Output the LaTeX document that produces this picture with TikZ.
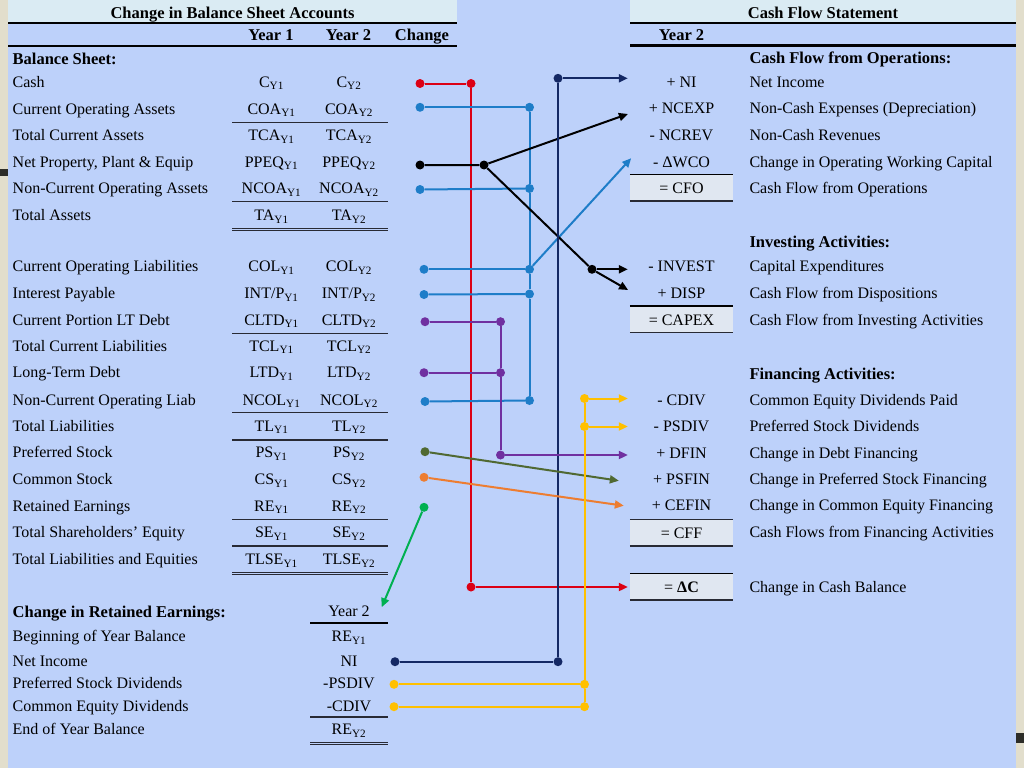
\documentclass[tikz,border=0pt]{standalone}
\usepackage{fontspec}
\setmainfont{Liberation Serif}
\usetikzlibrary{arrows.meta}

\definecolor{sheetbg}{RGB}{189,209,250}
\definecolor{headfill}{RGB}{218,235,243}
\definecolor{boxfill}{RGB}{224,231,241}
\definecolor{edgebeige}{RGB}{226,222,204}
\definecolor{edgemark}{RGB}{45,45,40}
\definecolor{rulegray}{RGB}{40,42,52}
\definecolor{cashred}{RGB}{220,0,20}
\definecolor{opblue}{RGB}{30,125,200}
\definecolor{ninavy}{RGB}{20,40,100}
\definecolor{debtpurple}{RGB}{112,48,160}
\definecolor{psolive}{RGB}{80,105,50}
\definecolor{csorange}{RGB}{237,125,49}
\definecolor{regreen}{RGB}{0,176,80}
\definecolor{divyellow}{RGB}{255,192,0}

\newcommand{\yone}[1]{#1\textsubscript{Y1}}
\newcommand{\ytwo}[1]{#1\textsubscript{Y2}}

\begin{document}
\begin{tikzpicture}[
    x=1pt, y=-1pt,
    lbl/.style={
        anchor=west,
        inner sep=0pt,
        text height=12pt,
        text depth=1pt,
        font=\fontsize{16}{19}\selectfont,
    },
    hdr/.style={
        lbl,
        font=\fontsize{16.5}{19}\selectfont\bfseries,
    },
    val/.style={
        inner sep=0pt,
        text height=12pt,
        text depth=1pt,
        font=\fontsize{16}{19}\selectfont,
    },
    colhdr/.style={
        val,
        font=\fontsize{16.5}{19}\selectfont\bfseries,
    },
    sym/.style={
        val,
        minimum width=103pt,
        minimum height=26pt,
    },
    total/.style={
        sym,
        fill=boxfill,
    },
    joint/.style={
        circle,
        fill=#1,
        inner sep=0pt,
        minimum size=9pt,
    },
    wire/.style={
        line width=2pt,
        draw=#1,
    },
    feed/.style={
        wire=#1,
        -{Triangle[length=9pt, width=8pt]},
        shorten >=2pt,
    },
    tabrule/.style={
        line width=1.3pt,
        draw=rulegray,
    },
    thickrule/.style={
        line width=2.2pt,
        draw=black,
    },
    dblrule/.style={
        draw=rulegray,
        double=sheetbg,
        double distance=1pt,
        line width=1pt,
    }
]
    \useasboundingbox (0,0) rectangle (1024,768);

    % Page
    \fill[sheetbg] (8,0) rectangle (1016,768);
    \fill[edgebeige] (0,0) rectangle (8,768);
    \fill[edgebeige] (1016,0) rectangle (1024,768);
    \fill[edgemark] (0,169) rectangle (8,176);
    \fill[edgemark] (1016,733) rectangle (1024,743);

    % Headers
    \fill[headfill] (8,0) rectangle (457,22);
    \fill[headfill] (630,0) rectangle (1016,22);
    \node[colhdr] (bsTitle) at (232.5,12.8) {Change in Balance Sheet Accounts};
    \node[colhdr] (cfTitle) at (823,12.8) {Cash Flow Statement};
    \draw[thickrule] (8,23.3) -- (457,23.3);
    \draw[thickrule] (630,23.3) -- (1016,23.3);
    \node[colhdr] (hdYear1) at (271,34.7) {Year 1};
    \node[colhdr] (hdYear2) at (348.5,34.7) {Year 2};
    \node[colhdr] (hdChange) at (422,34.7) {Change};
    \node[colhdr] (cfYear2) at (681.5,34.7) {Year 2};
    \draw[thickrule] (8,46) -- (457,46);
    \draw[thickrule] (630,45.5) -- (1016,45.5);

    % Balance sheet
    \node[hdr] (bsHead) at (12.5,58.7) {Balance Sheet:};
    \node[lbl] (cash) at (12.5,81.5) {Cash};
    \node[val] (cashY1) at (271.5,81.5) {\yone{C}};
    \node[val] (cashY2) at (349,81.5) {\ytwo{C}};
    \node[lbl] (coa) at (12.5,108.5) {Current Operating Assets};
    \node[val] (coaY1) at (271.5,108.5) {\yone{COA}};
    \node[val] (coaY2) at (349,108.5) {\ytwo{COA}};
    \node[lbl] (tca) at (12.5,135.3) {Total Current Assets};
    \node[val] (tcaY1) at (271.5,135.3) {\yone{TCA}};
    \node[val] (tcaY2) at (349,135.3) {\ytwo{TCA}};
    \node[lbl] (ppeq) at (12.5,161.7) {Net Property, Plant \& Equip};
    \node[val] (ppeqY1) at (271.5,161.7) {\yone{PPEQ}};
    \node[val] (ppeqY2) at (349,161.7) {\ytwo{PPEQ}};
    \node[lbl] (ncoa) at (12.5,188.3) {Non-Current Operating Assets};
    \node[val] (ncoaY1) at (271.5,188.3) {\yone{NCOA}};
    \node[val] (ncoaY2) at (349,188.3) {\ytwo{NCOA}};
    \node[lbl] (ta) at (12.5,215) {Total Assets};
    \node[val] (taY1) at (271.5,215) {\yone{TA}};
    \node[val] (taY2) at (349,215) {\ytwo{TA}};
    \node[lbl] (col) at (12.5,266.3) {Current Operating Liabilities};
    \node[val] (colY1) at (271.5,266.3) {\yone{COL}};
    \node[val] (colY2) at (349,266.3) {\ytwo{COL}};
    \node[lbl] (intp) at (12.5,293) {Interest Payable};
    \node[val] (intpY1) at (271.5,293) {\yone{INT/P}};
    \node[val] (intpY2) at (349,293) {\ytwo{INT/P}};
    \node[lbl] (cltd) at (12.5,319.7) {Current Portion LT Debt};
    \node[val] (cltdY1) at (271.5,319.7) {\yone{CLTD}};
    \node[val] (cltdY2) at (349,319.7) {\ytwo{CLTD}};
    \node[lbl] (tcl) at (12.5,345.7) {Total Current Liabilities};
    \node[val] (tclY1) at (271.5,345.7) {\yone{TCL}};
    \node[val] (tclY2) at (349,345.7) {\ytwo{TCL}};
    \node[lbl] (ltd) at (12.5,372.3) {Long-Term Debt};
    \node[val] (ltdY1) at (271.5,372.3) {\yone{LTD}};
    \node[val] (ltdY2) at (349,372.3) {\ytwo{LTD}};
    \node[lbl] (ncol) at (12.5,399.7) {Non-Current Operating Liab};
    \node[val] (ncolY1) at (271.5,399.7) {\yone{NCOL}};
    \node[val] (ncolY2) at (349,399.7) {\ytwo{NCOL}};
    \node[lbl] (tl) at (12.5,425.7) {Total Liabilities};
    \node[val] (tlY1) at (271.5,425.7) {\yone{TL}};
    \node[val] (tlY2) at (349,425.7) {\ytwo{TL}};
    \node[lbl] (ps) at (12.5,452.3) {Preferred Stock};
    \node[val] (psY1) at (271.5,452.3) {\yone{PS}};
    \node[val] (psY2) at (349,452.3) {\ytwo{PS}};
    \node[lbl] (cs) at (12.5,479) {Common Stock};
    \node[val] (csY1) at (271.5,479) {\yone{CS}};
    \node[val] (csY2) at (349,479) {\ytwo{CS}};
    \node[lbl] (re) at (12.5,505.7) {Retained Earnings};
    \node[val] (reY1) at (271.5,505.7) {\yone{RE}};
    \node[val] (reY2) at (349,505.7) {\ytwo{RE}};
    \node[lbl] (se) at (12.5,532.3) {Total Shareholders' Equity};
    \node[val] (seY1) at (271.5,532.3) {\yone{SE}};
    \node[val] (seY2) at (349,532.3) {\ytwo{SE}};
    \node[lbl] (tlse) at (12.5,559) {Total Liabilities and Equities};
    \node[val] (tlseY1) at (271.5,559) {\yone{TLSE}};
    \node[val] (tlseY2) at (349,559) {\ytwo{TLSE}};

    % Balance sheet rules
    \draw[tabrule] (232,122.3) -- (388,122.3);
    \draw[tabrule] (232,201.7) -- (388,201.7);
    \draw[dblrule] (232,229.3) -- (388,229.3);
    \draw[tabrule] (232,333.3) -- (388,333.3);
    \draw[tabrule] (232,412.7) -- (388,412.7);
    \draw[tabrule] (232,440) -- (388,440);
    \draw[tabrule] (232,519.3) -- (388,519.3);
    \draw[tabrule] (232,546) -- (388,546);
    \draw[dblrule] (232,573.7) -- (388,573.7);

    % Change in retained earnings
    \node[hdr] (rcHead) at (12.5,612) {Change in Retained Earnings:};
    \node[val] (rcYear) at (349,611) {Year 2};
    \node[lbl] (rcBegin) at (12.5,636) {Beginning of Year Balance};
    \node[val] (rcBeginV) at (349,636) {\yone{RE}};
    \node[lbl] (rcNI) at (12.5,660.7) {Net Income};
    \node[val] (rcNIV) at (349,660.7) {NI};
    \node[lbl] (rcPSD) at (12.5,683) {Preferred Stock Dividends};
    \node[val] (rcPSDV) at (349,683) {-PSDIV};
    \node[lbl] (rcCD) at (12.5,705.7) {Common Equity Dividends};
    \node[val] (rcCDV) at (349,705.7) {-CDIV};
    \node[lbl] (rcEnd) at (12.5,729) {End of Year Balance};
    \node[val] (rcEndV) at (349,729) {\ytwo{RE}};
    \draw[thickrule] (310,623) -- (388,623);
    \draw[tabrule] (310,717) -- (388,717);
    \draw[dblrule] (310,743) -- (388,743);

    % Cash flow statement
    \node[hdr] (cfoHead) at (749.3,58) {Cash Flow from Operations:};
    \node[sym] (cfNI) at (681.5,81.5) {+ NI};
    \node[lbl] (dsNI) at (749.3,81.5) {Net Income};
    \node[sym] (cfNCEXP) at (681.5,108.3) {+ NCEXP};
    \node[lbl] (dsNCEXP) at (749.3,108.3) {Non-Cash Expenses (Depreciation)};
    \node[sym] (cfNCREV) at (681.5,135) {- NCREV};
    \node[lbl] (dsNCREV) at (749.3,135) {Non-Cash Revenues};
    \node[sym] (cfWCO) at (681.5,161.7) {- ΔWCO};
    \node[lbl] (dsWCO) at (749.3,161.7) {Change in Operating Working Capital};
    \node[total] (cfCFO) at (681.5,187.7) {= CFO};
    \node[lbl] (dsCFO) at (749.3,187.7) {Cash Flow from Operations};

    \node[hdr] (invHead) at (749.3,242.3) {Investing Activities:};
    \node[sym] (cfINVEST) at (681.5,266.3) {- INVEST};
    \node[lbl] (dsINVEST) at (749.3,266.3) {Capital Expenditures};
    \node[sym] (cfDISP) at (681.5,293) {+ DISP};
    \node[lbl] (dsDISP) at (749.3,293) {Cash Flow from Dispositions};
    \node[total] (cfCAPEX) at (681.5,319.5) {= CAPEX};
    \node[lbl] (dsCAPEX) at (749.3,319.5) {Cash Flow from Investing Activities};

    \node[hdr] (finHead) at (749.3,374) {Financing Activities:};
    \node[sym] (cfCDIV) at (681.5,399.7) {- CDIV};
    \node[lbl] (dsCDIV) at (749.3,399.7) {Common Equity Dividends Paid};
    \node[sym] (cfPSDIV) at (681.5,425.7) {- PSDIV};
    \node[lbl] (dsPSDIV) at (749.3,425.7) {Preferred Stock Dividends};
    \node[sym] (cfDFIN) at (681.5,452.7) {+ DFIN};
    \node[lbl] (dsDFIN) at (749.3,452.7) {Change in Debt Financing};
    \node[sym] (cfPSFIN) at (681.5,479) {+ PSFIN};
    \node[lbl] (dsPSFIN) at (749.3,479) {Change in Preferred Stock Financing};
    \node[sym] (cfCEFIN) at (681.5,505) {+ CEFIN};
    \node[lbl] (dsCEFIN) at (749.3,505) {Change in Common Equity Financing};
    \node[total] (cfCFF) at (681.5,532.8) {= CFF};
    \node[lbl] (dsCFF) at (749.3,532.3) {Cash Flows from Financing Activities};
    \node[total] (cfDC) at (681.5,586.7) {= \textbf{ΔC}};
    \node[lbl] (dsDC) at (749.3,586.7) {Change in Cash Balance};

    % Total box rules
    \draw[tabrule, line width=1pt, draw=black] (cfCFO.north west) -- (cfCFO.north east);
    \draw[tabrule] (cfCFO.south west) -- (cfCFO.south east);
    \draw[thickrule] (cfCAPEX.north west) -- (cfCAPEX.north east);
    \draw[tabrule] (cfCAPEX.south west) -- (cfCAPEX.south east);
    \draw[tabrule] (cfCFF.north west) -- (cfCFF.north east);
    \draw[tabrule] (cfCFF.south west) -- (cfCFF.south east);
    \draw[tabrule, line width=1pt, draw=black] (cfDC.north west) -- (cfDC.north east);
    \draw[tabrule, line width=2.6pt] (cfDC.south west) -- (cfDC.south east);

    % Cash
    \node[joint=cashred] (cashA) at (420,83.5) {};
    \node[joint=cashred] (cashB) at (471,83.5) {};
    \node[joint=cashred] (cashC) at (471,587) {};
    \draw[wire=cashred] (cashA) -- (cashB) -- (cashC);
    \draw[feed=cashred] (cashC) -- (cashC -| cfDC.west);

    % Operating working capital
    \node[joint=opblue] (coaA) at (420,107.3) {};
    \node[joint=opblue] (coaB) at (529.5,107.3) {};
    \node[joint=opblue] (ncoaA) at (420,189.5) {};
    \node[joint=opblue] (ncoaB) at (529.5,188.5) {};
    \node[joint=opblue] (colA) at (424,269.3) {};
    \node[joint=opblue] (colB) at (529.5,269.3) {};
    \node[joint=opblue] (intA) at (424,294.5) {};
    \node[joint=opblue] (intB) at (529.5,294) {};
    \node[joint=opblue] (ncolA) at (425,401.5) {};
    \node[joint=opblue] (ncolB) at (529.5,400.5) {};
    \draw[wire=opblue] (coaA) -- (coaB);
    \draw[wire=opblue] (ncoaA) -- (ncoaB);
    \draw[wire=opblue] (colA) -- (colB);
    \draw[wire=opblue] (intA) -- (intB);
    \draw[wire=opblue] (ncolA) -- (ncolB);
    \draw[wire=opblue] (coaB) -- (ncoaB) -- (colB) -- (intB) -- (ncolB);
    \draw[feed=opblue, shorten >=-2pt] (colB) -- ([yshift=2pt]cfWCO.west);

    % Property, plant and equipment
    \node[joint=black] (ppeA) at (420,165) {};
    \node[joint=black] (ppeB) at (484,165) {};
    \node[joint=black] (ppeC) at (592,269.3) {};
    \draw[wire=black] (ppeA) -- (ppeB) -- (ppeC);
    \draw[feed=black] (ppeB) -- ([yshift=-5pt]cfNCEXP.west);
    \draw[feed=black] (ppeC) -- (ppeC -| cfINVEST.west);
    \draw[feed=black] (ppeC) -- ([yshift=2pt]cfDISP.west);

    % Net income
    \node[joint=ninavy] (niA) at (395,661.7) {};
    \node[joint=ninavy] (niB) at (558,661.7) {};
    \node[joint=ninavy] (niC) at (558,78.3) {};
    \draw[wire=ninavy] (niA) -- (niB) -- (niC);
    \draw[feed=ninavy] (niC) -- (niC -| cfNI.west);

    % Debt
    \node[joint=debtpurple] (cltdA) at (425,321.7) {};
    \node[joint=debtpurple] (cltdB) at (500.5,321.7) {};
    \node[joint=debtpurple] (ltdA) at (424,372.7) {};
    \node[joint=debtpurple] (ltdB) at (500.5,372.7) {};
    \node[joint=debtpurple] (ltdC) at (500.5,455) {};
    \draw[wire=debtpurple] (cltdA) -- (cltdB);
    \draw[wire=debtpurple] (ltdA) -- (ltdB);
    \draw[wire=debtpurple] (cltdB) -- (ltdB) -- (ltdC);
    \draw[feed=debtpurple] (ltdC) -- (ltdC -| cfDFIN.west);

    % Equity
    \node[joint=psolive] (psA) at (425,451.7) {};
    \draw[feed=psolive] (psA) -- ([xshift=-9pt, yshift=-2pt]cfPSFIN.west);
    \node[joint=csorange] (csA) at (424,477.3) {};
    \draw[feed=csorange] (csA) -- ([xshift=-4pt, yshift=-1pt]cfCEFIN.west);
    \node[joint=regreen] (reA) at (424,507.3) {};
    \draw[feed=regreen] (reA) -- ([xshift=11pt, yshift=2pt]rcYear.east);

    % Dividends
    \node[joint=divyellow] (psdA) at (394,684.3) {};
    \node[joint=divyellow] (psdB) at (584.5,684.3) {};
    \node[joint=divyellow] (cdA) at (394,706.7) {};
    \node[joint=divyellow] (cdB) at (584.5,706.7) {};
    \node[joint=divyellow] (cdC) at (584.5,398.5) {};
    \node[joint=divyellow] (psdC) at (584.5,426.5) {};
    \draw[wire=divyellow] (psdA) -- (psdB);
    \draw[wire=divyellow] (cdA) -- (cdB);
    \draw[wire=divyellow] (cdB) -- (psdB) -- (psdC) -- (cdC);
    \draw[feed=divyellow] (cdC) -- (cdC -| cfCDIV.west);
    \draw[feed=divyellow] (psdC) -- (psdC -| cfPSDIV.west);
\end{tikzpicture}
\end{document}
